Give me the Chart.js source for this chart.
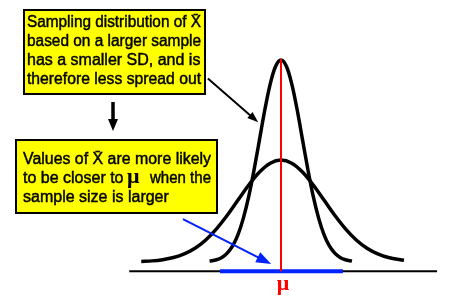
<!DOCTYPE html>
<html lang="en">
<head>
<meta charset="utf-8">
<title>Sampling distribution of X̄</title>
<script src="https://cdn.jsdelivr.net/npm/chart.js@4/dist/chart.umd.min.js"></script>
<style>
  html, body { margin: 0; padding: 0; background: #ffffff; }
  #graphique { display: block; }
</style>
</head>
<body>
<canvas id="graphique" width="466" height="301"></canvas>
<script>
'use strict';

/* === DONNÉES === */
// x en écarts-types de la petite taille d'échantillon, mu = 0
const X_LARGE = [-3.25, -3, -2.75, -2.5, -2.25, -2, -1.75, -1.5, -1.25, -1, -0.75, -0.5, -0.25,
  0, 0.25, 0.5, 0.75, 1, 1.25, 1.5, 1.75, 2, 2.25, 2.5, 2.86];
const Y_LARGE = [0.006, 0.011, 0.023, 0.044, 0.08, 0.135, 0.216, 0.325, 0.458, 0.607, 0.755, 0.882, 0.969,
  1.0, 0.969, 0.882, 0.755, 0.607, 0.458, 0.325, 0.216, 0.135, 0.08, 0.044, 0.017];

const X_ETROIT = [-1.66, -1.5, -1.375, -1.25, -1.125, -1, -0.875, -0.75, -0.625, -0.5, -0.375, -0.25, -0.125,
  0, 0.125, 0.25, 0.375, 0.5, 0.625, 0.75, 0.875, 1, 1.125, 1.25, 1.375, 1.5, 1.65];
const Y_ETROIT = [0.008, 0.022, 0.045, 0.087, 0.157, 0.268, 0.43, 0.643, 0.907, 1.2, 1.495, 1.747, 1.919,
  1.98, 1.919, 1.747, 1.495, 1.2, 0.907, 0.643, 0.43, 0.268, 0.157, 0.087, 0.045, 0.022, 0.009];

const AXE_X = [-3.53, 3.63];
const AXE_Y = -0.09;
const INTERVALLE = [-1.42, 1.44];
const MU = 0;
const HAUT_MU = 1.99;

/* === TEXTES === */
const TEXTE_HAUT = [
  'Sampling distribution of X\u0304',
  'based on a larger sample',
  'has a smaller SD, and is',
  'therefore less spread out'
];
const TEXTE_BAS = ['Values of X\u0304 are more likely', 'to be closer to', '\u03bc', 'when the', 'sample size is larger'];

const POLICE = '16px "Liberation Sans", Arial, sans-serif';
const POLICE_MU = 'bold 22px "Liberation Serif", "Times New Roman", serif';
const JAUNE = '#ffff00';
const BLEU = '#0022ff';
const ROUGE = '#ff0000';

/* === HELPERS === */

function points(xs, ys) {
  return xs.map((x, i) => ({ x, y: ys[i] }));
}

function fleche(ctx, x1, y1, x2, y2, couleur, epaisseur, longueur, largeur) {
  const angle = Math.atan2(y2 - y1, x2 - x1);
  const bx = x2 - longueur * Math.cos(angle);
  const by = y2 - longueur * Math.sin(angle);
  ctx.save();
  ctx.strokeStyle = couleur;
  ctx.fillStyle = couleur;
  ctx.lineWidth = epaisseur;
  ctx.beginPath();
  ctx.moveTo(x1, y1);
  ctx.lineTo(bx + Math.cos(angle), by + Math.sin(angle));
  ctx.stroke();
  ctx.beginPath();
  ctx.moveTo(x2, y2);
  ctx.lineTo(bx + (largeur / 2) * Math.sin(angle), by - (largeur / 2) * Math.cos(angle));
  ctx.lineTo(bx - (largeur / 2) * Math.sin(angle), by + (largeur / 2) * Math.cos(angle));
  ctx.closePath();
  ctx.fill();
  ctx.restore();
}

function boite(ctx, x, y, l, h) {
  ctx.fillStyle = JAUNE;
  ctx.fillRect(x, y, l, h);
  ctx.strokeStyle = '#000000';
  ctx.lineWidth = 2;
  ctx.strokeRect(x, y, l, h);
}

// texte un peu épaissi, comme le rendu crénelé de l'original
function texte(ctx, chaine, x, y, largeurMax) {
  if (largeurMax) {
    ctx.fillText(chaine, x, y, largeurMax);
    ctx.strokeText(chaine, x, y, largeurMax);
  } else {
    ctx.fillText(chaine, x, y);
    ctx.strokeText(chaine, x, y);
  }
}

/* === ANNOTATIONS === */

const pluginAnnotations = {
  id: 'annotations',
  afterDatasetsDraw(chart) {
    const { ctx, scales: { x, y } } = chart;
    const px = v => x.getPixelForValue(v);
    const py = v => y.getPixelForValue(v);

    ctx.save();
    ctx.textBaseline = 'alphabetic';
    ctx.textAlign = 'left';

    // encadré du haut
    boite(ctx, 24, 10, 181, 84);
    ctx.fillStyle = '#000000';
    ctx.strokeStyle = '#000000';
    ctx.lineWidth = 0.45;
    ctx.font = POLICE;
    TEXTE_HAUT.forEach((ligne, i) => texte(ctx, ligne, 27, 27 + i * 19, 174));

    // encadré du bas
    boite(ctx, 16, 140, 201, 73);
    ctx.fillStyle = '#000000';
    ctx.strokeStyle = '#000000';
    ctx.lineWidth = 0.45;
    ctx.font = POLICE;
    texte(ctx, TEXTE_BAS[0], 23, 164, 188);
    texte(ctx, TEXTE_BAS[1], 23, 183);
    texte(ctx, TEXTE_BAS[3], 150, 183, 61);
    texte(ctx, TEXTE_BAS[4], 23, 202);
    ctx.font = POLICE_MU;
    ctx.fillText(TEXTE_BAS[2], 127, 183);

    // mu sous l'axe
    ctx.fillStyle = ROUGE;
    ctx.textAlign = 'center';
    ctx.fillText('\u03bc', px(MU) + 2, 290);

    // flèches
    fleche(ctx, 113, 102, 113, 131, '#000000', 3.5, 12, 10);
    fleche(ctx, px(-1.7), py(1.8), px(-0.53), py(1.37), '#000000', 2, 11, 8);
    fleche(ctx, px(-2.28), py(0.42), px(-0.23), py(-0.02), BLEU, 2, 15, 11);
    ctx.restore();
  }
};

/* === GRAPHIQUE === */

new Chart(document.getElementById('graphique'), {
  type: 'line',
  data: {
    datasets: [
      {
        data: points([MU, MU], [AXE_Y, HAUT_MU]),
        borderColor: ROUGE, borderWidth: 2, order: 0
      },
      {
        data: points(INTERVALLE, [AXE_Y, AXE_Y]),
        borderColor: BLEU, borderWidth: 4, order: 1
      },
      {
        data: points(X_ETROIT, Y_ETROIT),
        borderColor: '#000000', borderWidth: 3.5, cubicInterpolationMode: 'monotone', order: 2
      },
      {
        data: points(X_LARGE, Y_LARGE),
        borderColor: '#000000', borderWidth: 3.5, cubicInterpolationMode: 'monotone', order: 3
      },
      {
        data: points(AXE_X, [AXE_Y, AXE_Y]),
        borderColor: '#000000', borderWidth: 2, order: 4
      }
    ]
  },
  options: {
    responsive: false,
    animation: false,
    devicePixelRatio: 1,
    layout: { padding: 0 },
    elements: { point: { radius: 0, hoverRadius: 0 } },
    scales: {
      x: { type: 'linear', display: false, min: -281 / 43, max: 185 / 43 },
      y: { type: 'linear', display: false, min: -39 / 102, max: 262 / 102 }
    },
    plugins: {
      legend: { display: false },
      tooltip: { enabled: false }
    }
  },
  plugins: [pluginAnnotations]
});
</script>
</body>
</html>
